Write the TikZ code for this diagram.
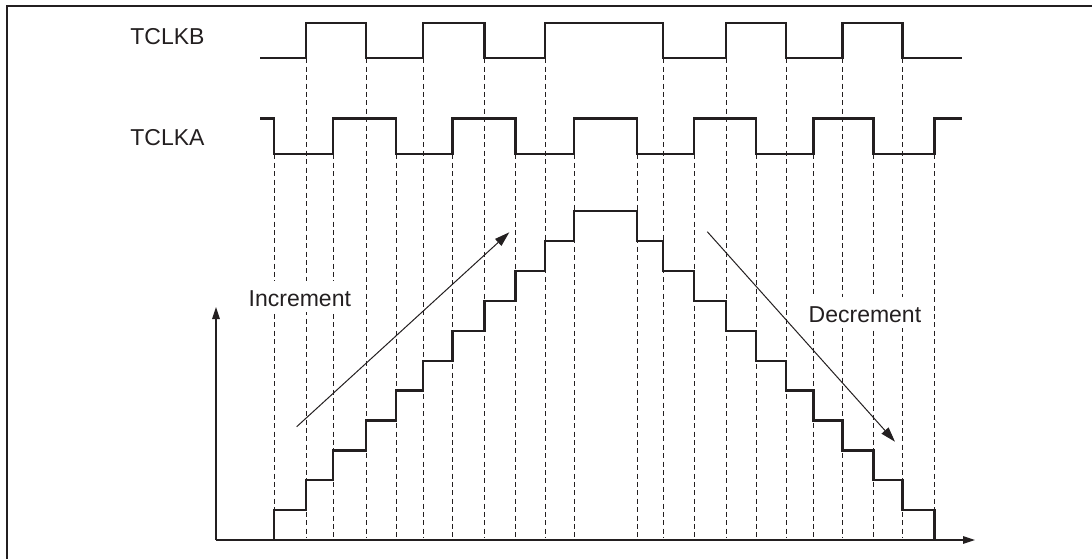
\documentclass[tikz,border=0pt]{standalone}
\usepackage{fontspec}
\setmainfont{Liberation Sans}
\usetikzlibrary{arrows.meta}
\definecolor{ink}{HTML}{231F20}
\begin{document}
\begin{tikzpicture}[x=0.5pt,y=-0.5pt,
  wave/.style={draw=ink,line width=1.05pt},
  stair/.style={draw=ink,line width=1.15pt},
  guide/.style={draw=ink,line width=0.5pt,dash pattern=on 2.5pt off 1.7pt},
  axis/.style={draw=ink,line width=0.6pt,-{Triangle[length=6pt,width=3.8pt]}},
  trend/.style={draw=ink,line width=0.5pt,-{Triangle[length=7.5pt,width=4.6pt]}},
  label/.style={anchor=base west,inner sep=0pt,text=ink,font=\fontsize{11.5}{13.8}\selectfont},
  masked/.style={label,fill=white,inner xsep=2pt,text height=12.5pt,text depth=3pt}]
\useasboundingbox (0,0) rectangle (1092,559);
% frame (only top and left edges visible)
\draw[ink,line width=1pt] (1092,6.3) -- (6.7,6.3) -- (6.7,559);
% signal labels
\node[label] (tb) at (130,44.3) {TCLKB};
\node[label] (ta) at (130,145.7) {TCLKA};
% dashed guides at TCLKB edges
\foreach \x in {306,366,423,484.5,545,663,726,786,842.5,902.5}
  \draw[guide] (\x,58.3) -- (\x,538);
% dashed guides at TCLKA edges
\foreach \x in {274,333,396,452.5,515.5,574,637,694,756,813.5,873.5,934.5}
  \draw[guide] (\x,154.3) -- (\x,538);
% direction labels (mask the guides behind them)
\node[masked] (inc) at (244.3,306) {Increment};
\node[masked] (dec) at (804.3,322.3) {Decrement};
% waveforms
\draw[wave] (260,58.3) -| (306,23.3) -| (366,58.3) -| (423,23.3) -| (484.5,58.3)
  -| (545,23.3) -| (663,58.3) -| (726,23.3) -| (786,58.3) -| (842.5,23.3)
  -| (902.5,58.3) -- (962,58.3);
\draw[wave] (260,118.5) -| (274,154.3) -| (333,118.5) -| (396,154.3) -| (452.5,118.5)
  -| (515.5,154.3) -| (574,118.5) -| (637,154.3) -| (694,118.5) -| (756,154.3)
  -| (813.5,118.5) -| (873.5,154.3) -| (934.5,118.5) -- (962,118.5);
% axes
\coordinate (origin) at (216,540);
\coordinate (ytip) at (216,307);
\coordinate (xtip) at (975,540);
\draw[axis] (origin) -- (ytip);
\draw[axis] (origin) -- (xtip);
% counter staircase
\draw[stair] (274,540) |- (306,510.1) |- (333,480.2) |- (366,450.4) |- (396,420.5)
  |- (423,390.6) |- (452.5,360.7) |- (484.5,330.8) |- (515.5,300.9) |- (545,271.1)
  |- (574,241.2) |- (637,211.3) |- (663,241.2) |- (694,271.1) |- (726,300.9)
  |- (756,330.8) |- (786,360.7) |- (813.5,390.6) |- (842.5,420.5) |- (873.5,450.4)
  |- (902.5,480.2) |- (934.5,510.1) -- (934.5,540);
% trend arrows
\coordinate (incA) at (296.7,426.7);
\coordinate (incB) at (509.3,232.3);
\coordinate (decA) at (707.3,231.7);
\coordinate (decB) at (895,441.7);
\draw[trend] (incA) -- (incB);
\draw[trend] (decA) -- (decB);
\end{tikzpicture}
\end{document}
